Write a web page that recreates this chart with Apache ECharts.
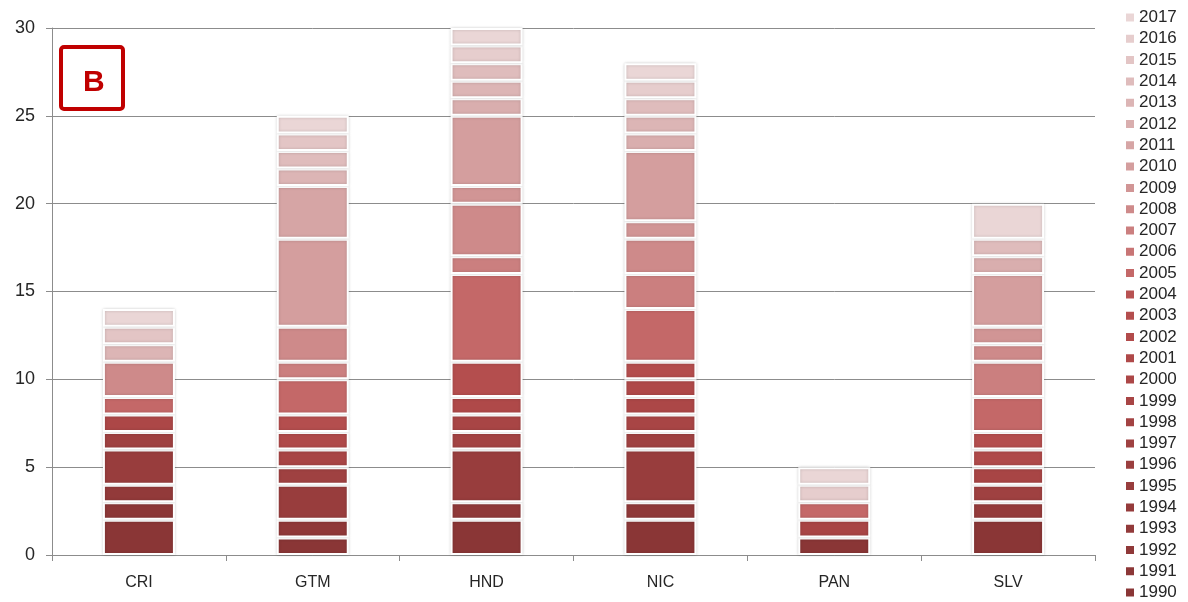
<!DOCTYPE html>
<html><head><meta charset="utf-8">
<script src="https://cdn.jsdelivr.net/npm/echarts@6/dist/echarts.min.js"></script>
<style>html,body{margin:0;padding:0;background:#fff}#c{width:1188px;height:602px}</style>
</head><body><div id="c"></div>
<script>
const countries = ['CRI','GTM','HND','NIC','PAN','SLV'];
const years = ['1990','1991','1992','1993','1994','1995','1996','1997','1998','1999','2000','2001','2002','2003','2004','2005','2006','2007','2008','2009','2010','2011','2012','2013','2014','2015','2016','2017'];
const yTicks = [0,5,10,15,20,25,30];
// values per year: [CRI, GTM, HND, NIC, PAN, SLV]
const v1990 = [2,1,2,2,1,2];
const v1991 = [1,0,0,0,0,0];
const v1992 = [0,1,1,1,0,0];
const v1993 = [1,0,0,0,0,0];
const v1994 = [0,0,0,0,0,1];
const v1995 = [2,2,3,3,0,0];
const v1996 = [0,0,0,0,0,0];
const v1997 = [1,1,0,1,0,1];
const v1998 = [0,0,1,0,0,0];
const v1999 = [0,1,1,1,1,1];
const v2000 = [1,0,0,1,0,0];
const v2001 = [0,1,1,1,0,1];
const v2002 = [0,0,0,0,0,0];
const v2003 = [0,1,2,1,0,1];
const v2004 = [0,0,0,0,0,0];
const v2005 = [1,2,5,3,1,2];
const v2006 = [0,0,0,0,0,0];
const v2007 = [0,1,1,2,0,2];
const v2008 = [2,2,3,2,0,1];
const v2009 = [0,0,1,1,0,1];
const v2010 = [0,5,4,4,0,3];
const v2011 = [0,3,0,0,0,0];
const v2012 = [0,0,1,1,0,1];
const v2013 = [1,1,1,1,0,0];
const v2014 = [0,1,1,1,0,1];
const v2015 = [1,1,0,0,0,0];
const v2016 = [0,0,1,1,1,0];
const v2017 = [1,1,1,1,1,2];
const yearValues = [v1990,v1991,v1992,v1993,v1994,v1995,v1996,v1997,v1998,v1999,v2000,v2001,v2002,v2003,v2004,v2005,v2006,v2007,v2008,v2009,v2010,v2011,v2012,v2013,v2014,v2015,v2016,v2017];
const yearColors = ['#8A3636','#8C3737','#8F3838','#923A3A','#953B3B','#983D3D','#9B3F3F','#9F4141','#A34343','#A84545','#AC4747','#AF4949','#B24B4B','#B44E4E','#B85252','#C46868','#C87575','#CB7F7F','#CE8A8A','#D19595','#D49E9E','#D6A5A5','#D9AEAE','#DCB5B5','#DFBCBC','#E3C5C5','#E6CDCD','#EAD6D6'];

const FONT = 'Liberation Sans';
const series = years.map((y,i)=>({
  name: y, type: 'bar', stack: 'all', barWidth: 72,
  data: yearValues[i].map(v => v === 0 ? '-' : v),
  itemStyle: { color: yearColors[i], borderColor: '#ffffff', borderWidth: 2,
    shadowColor: 'rgba(0,0,0,0.18)', shadowBlur: 3 },
  emphasis: { disabled: true }
}));

const chart = echarts.init(document.getElementById('c'), null, {renderer:'canvas'});
chart.setOption({
  animation: false,
  backgroundColor: '#ffffff',
  grid: { left: 52, right: 93, top: 28, bottom: 47, containLabel: false },
  legend: {
    orient: 'vertical', left: 1124, top: 9, bottom: 0, padding: 0,
    data: years.slice().reverse(),
    itemWidth: 10, itemHeight: 10, itemGap: 4.3,
    icon: 'rect',
    textStyle: { fontFamily: FONT, fontSize: 17, color: '#262626', padding: [0,0,0,-1] }
  },
  xAxis: {
    type: 'category', data: countries,
    axisLine: { lineStyle: { color: '#8c8c8c', width: 1 } },
    axisTick: { show: true, length: 6, lineStyle: { color: '#8c8c8c' } },
    axisLabel: { fontFamily: FONT, fontSize: 16, color: '#262626', margin: 20 }
  },
  yAxis: {
    type: 'value', min: 0, max: 30, interval: 5,
    axisLine: { show: true, lineStyle: { color: '#8c8c8c' } },
    axisTick: { show: true, length: 6, lineStyle: { color: '#8c8c8c' } },
    splitLine: { lineStyle: { color: '#8c8c8c', width: 1 } },
    axisLabel: { fontFamily: FONT, fontSize: 18, color: '#262626', margin: 17,
      formatter: v => yTicks.includes(v) ? String(v) : '' }
  },
  graphic: [
    { type: 'rect', left: 59, top: 45, shape: { width: 62, height: 62, r: 3 },
      style: { fill: '#ffffff', stroke: '#C00000', lineWidth: 4 }, z: 100 },
    { type: 'text', left: 83, top: 68, style: { text: 'B', fill: '#C00000',
      font: 'bold 30px "Liberation Sans"' }, z: 101 }
  ],
  series: series
});
</script></body></html>
